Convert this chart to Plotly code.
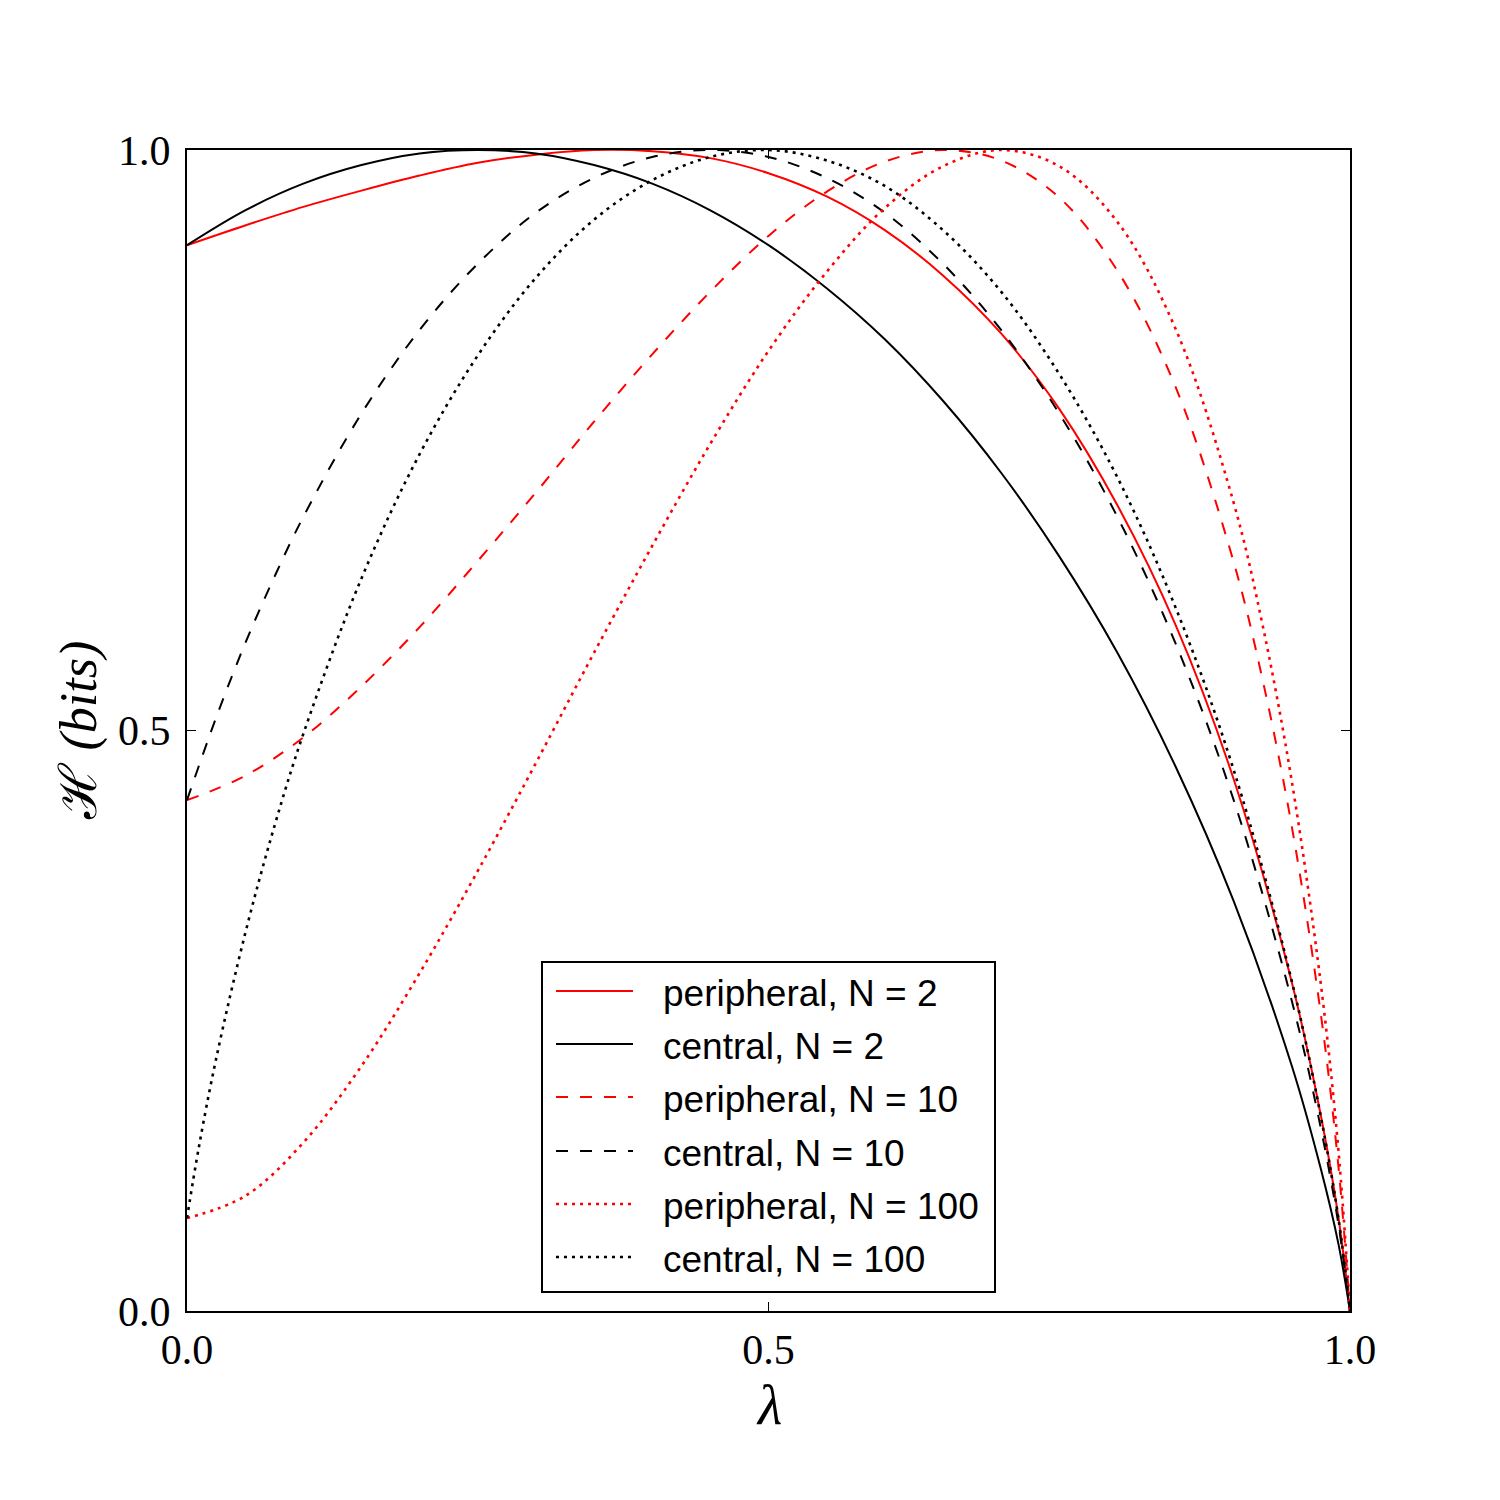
import plotly.graph_objects as go

# ---- data ----
series_names = [
    "peripheral, N = 2", "central, N = 2",
    "peripheral, N = 10", "central, N = 10",
    "peripheral, N = 100", "central, N = 100",
]

lam_p2 = [0, 0.05, 0.1, 0.15, 0.2, 0.25, 0.3, 0.35, 0.4, 0.45, 0.5, 0.55, 0.6, 0.65,
          0.7, 0.75, 0.8, 0.85, 0.9, 0.95, 0.975, 0.99, 1.0]
H_p2 = [0.918, 0.935, 0.951, 0.965, 0.978, 0.989, 0.996, 1.0, 0.999, 0.993, 0.980, 0.960,
        0.931, 0.892, 0.842, 0.777, 0.694, 0.591, 0.458, 0.283, 0.168, 0.081, 0.0]

lam_c2 = [0, 0.05, 0.1, 0.15, 0.2, 0.25, 0.3, 0.35, 0.4, 0.45, 0.5, 0.55, 0.6, 0.65,
          0.7, 0.75, 0.8, 0.85, 0.9, 0.95, 0.975, 0.99, 1.0]
H_c2 = [0.918, 0.948, 0.971, 0.987, 0.997, 1.0, 0.997, 0.987, 0.971, 0.948, 0.918, 0.881,
        0.837, 0.784, 0.722, 0.650, 0.567, 0.469, 0.353, 0.211, 0.122, 0.058, 0.0]

lam_p10 = [0, 0.05, 0.1, 0.15, 0.2, 0.25, 0.3, 0.35, 0.4, 0.45, 0.5, 0.55, 0.6, 0.65,
           0.7, 0.75, 0.8, 0.85, 0.9, 0.925, 0.95, 0.975, 0.99, 1.0]
H_p10 = [0.440, 0.461, 0.494, 0.538, 0.589, 0.646, 0.705, 0.766, 0.824, 0.878, 0.926, 0.964,
         0.990, 1.0, 0.991, 0.959, 0.896, 0.796, 0.645, 0.543, 0.417, 0.255, 0.125, 0.0]

lam_c10 = [0, 0.025, 0.05, 0.075, 0.1, 0.15, 0.2, 0.25, 0.3, 0.35, 0.4, 0.45, 0.5, 0.55,
           0.6, 0.65, 0.7, 0.75, 0.8, 0.85, 0.9, 0.95, 0.975, 0.99, 1.0]
H_c10 = [0.440, 0.511, 0.575, 0.632, 0.684, 0.773, 0.845, 0.902, 0.946, 0.976, 0.994, 1.0,
         0.994, 0.976, 0.946, 0.902, 0.845, 0.773, 0.684, 0.575, 0.440, 0.267, 0.157, 0.075, 0.0]

lam_p100 = [0, 0.05, 0.1, 0.15, 0.2, 0.25, 0.3, 0.35, 0.4, 0.45, 0.5, 0.55, 0.6, 0.65,
            0.7, 0.75, 0.8, 0.85, 0.9, 0.925, 0.95, 0.975, 0.99, 1.0]
H_p100 = [0.080, 0.099, 0.145, 0.211, 0.291, 0.379, 0.472, 0.567, 0.659, 0.747, 0.827, 0.895,
          0.950, 0.986, 1.0, 0.986, 0.938, 0.846, 0.696, 0.590, 0.456, 0.281, 0.139, 0.0]

lam_c100 = [0, 0.01, 0.025, 0.05, 0.075, 0.1, 0.15, 0.2, 0.25, 0.3, 0.35, 0.4, 0.45, 0.5,
            0.55, 0.6, 0.65, 0.7, 0.75, 0.8, 0.85, 0.9, 0.95, 0.975, 0.99, 1.0]
H_c100 = [0.080, 0.140, 0.217, 0.325, 0.417, 0.497, 0.631, 0.738, 0.823, 0.890, 0.940, 0.974,
          0.994, 1.0, 0.991, 0.969, 0.931, 0.878, 0.807, 0.718, 0.606, 0.466, 0.284, 0.167,
          0.080, 0.0]

tick_vals = [0.0, 0.5, 1.0]
tick_text = ["0.0", "0.5", "1.0"]

# ---- styles ----
RED = "#ff0000"
BLACK = "#000000"
DASH = "12px,12px"
DOT = "3px,5px"

series = [
    (lam_p2, H_p2, RED, "solid", 2),
    (lam_c2, H_c2, BLACK, "solid", 2),
    (lam_p10, H_p10, RED, DASH, 2),
    (lam_c10, H_c10, BLACK, DASH, 2),
    (lam_p100, H_p100, RED, DOT, 2.6),
    (lam_c100, H_c100, BLACK, DOT, 2.6),
]

fig = go.Figure()
for name, (x, y, col, dash, lw) in zip(series_names, series):
    fig.add_trace(go.Scatter(
        x=x, y=y, mode="lines", name=name,
        line=dict(color=col, width=lw, dash=dash, shape="spline", smoothing=1.0),
        showlegend=False,
    ))

# ---- custom legend (matplotlib-like) ----
W, H = 1500, 1500
L, R, T, B = 187, 150, 150, 189
pw, ph = W - L - R, H - T - B


def px_x(px):
    return (px - L) / pw


def px_y(py):
    return (H - B - py) / ph


shapes = [dict(type="rect", xref="paper", yref="paper",
               x0=px_x(542), x1=px_x(995), y0=px_y(1292), y1=px_y(962),
               line=dict(color="black", width=2), fillcolor="white", layer="above")]
annotations = []
row_y = [991, 1044, 1097, 1151, 1204, 1257]
for name, (x, y, col, dash, lw), ry in zip(series_names, series, row_y):
    shapes.append(dict(type="line", xref="paper", yref="paper",
                       x0=px_x(556), x1=px_x(633), y0=px_y(ry), y1=px_y(ry),
                       line=dict(color=col, width=lw, dash=dash), layer="above"))
    annotations.append(dict(xref="paper", yref="paper", x=px_x(661), y=px_y(ry + 2),
                            xanchor="left", yanchor="middle", showarrow=False, text=name,
                            font=dict(family="Liberation Sans", size=37, color="black")))

# axis titles
annotations.append(dict(xref="paper", yref="paper", x=0.5, y=px_y(1405),
                        xanchor="center", yanchor="middle", showarrow=False,
                        text="<i>λ</i>",
                        font=dict(family="Liberation Serif", size=56, color="black")))
annotations.append(dict(xref="paper", yref="paper", x=px_x(78), y=0.5,
                        xanchor="center", yanchor="middle", showarrow=False,
                        textangle=-90, text="ℋ <i>(bits)</i>",
                        font=dict(family="Liberation Serif", size=52, color="black")))

axis_common = dict(
    range=[0, 1], tickvals=tick_vals, ticktext=tick_text,
    showgrid=False, zeroline=False,
    showline=True, linecolor="black", linewidth=2, mirror="allticks",
    ticks="inside", ticklen=9, tickwidth=1, tickcolor="black",
    tickfont=dict(family="Liberation Serif", size=42, color="black"),
)

fig.update_layout(
    width=W, height=H,
    margin=dict(l=L, r=R, t=T, b=B, pad=0),
    paper_bgcolor="white", plot_bgcolor="white",
    xaxis=dict(**axis_common, ticklabelstandoff=1),
    yaxis=dict(**axis_common, ticklabelstandoff=6),
    shapes=shapes, annotations=annotations,
    showlegend=False,
)

fig.write_html("out.html")
